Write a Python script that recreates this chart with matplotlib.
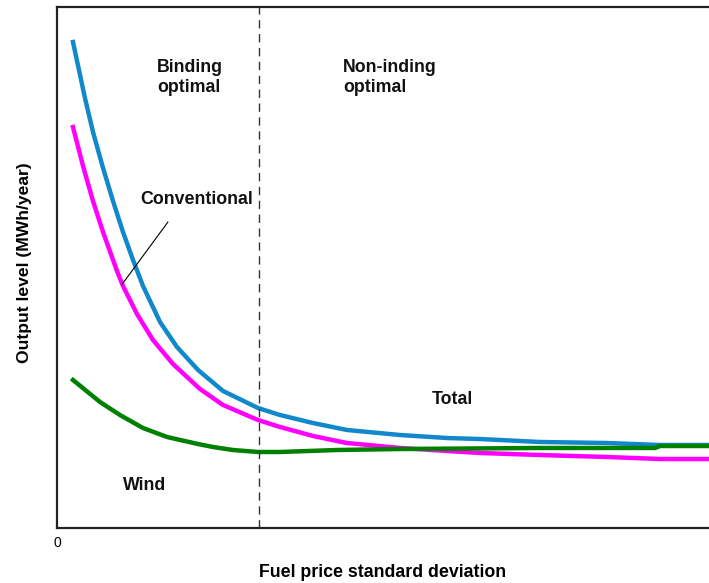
import matplotlib
matplotlib.use("Agg")
import matplotlib.pyplot as plt

plt.rcParams["font.family"] = ["Liberation Sans", "DejaVu Sans"]

# x: fuel price standard deviation, y: output level (both arbitrary units)
total_x = [0.245, 0.429, 0.552, 0.706, 0.859, 1.012, 1.166, 1.319, 1.580, 1.840, 2.163, 2.546,
           3.083, 3.420, 3.926, 4.448, 5.261, 5.982, 6.488, 7.408, 8.436, 9.248, 10.0]
total_y = [9.328, 8.253, 7.601, 6.910, 6.276, 5.681, 5.144, 4.645, 3.954, 3.474, 3.033, 2.630,
           2.303, 2.169, 2.015, 1.881, 1.785, 1.727, 1.708, 1.651, 1.631, 1.593, 1.593]

conv_x = [0.245, 0.399, 0.552, 0.706, 0.920, 1.012, 1.227, 1.472, 1.779, 2.193, 2.546,
          3.083, 3.420, 3.926, 4.448, 5.261, 5.982, 6.488, 7.408, 8.436, 9.248, 10.0]
conv_y = [7.697, 6.948, 6.276, 5.681, 4.933, 4.645, 4.107, 3.608, 3.148, 2.668, 2.361,
          2.073, 1.939, 1.766, 1.631, 1.536, 1.478, 1.440, 1.401, 1.363, 1.324, 1.324]

wind_x = [0.245, 0.660, 0.966, 1.319, 1.687, 2.163, 2.393, 2.699, 3.083, 3.420, 4.294,
          5.261, 7.408, 9.172, 9.248, 10.0]
wind_y = [2.841, 2.418, 2.169, 1.919, 1.747, 1.612, 1.555, 1.497, 1.459, 1.459, 1.497,
          1.516, 1.536, 1.536, 1.574, 1.574]

boundary_x = 3.10

fig = plt.figure(figsize=(7.09, 5.83), dpi=100)
ax = fig.add_axes([57 / 709, 55 / 583, 652 / 709, 521 / 583])

ax.plot(total_x, total_y, color="#1188cc", lw=3.2, solid_joinstyle="round")
ax.plot(conv_x, conv_y, color="#ff00ff", lw=3.2, solid_joinstyle="round")
ax.plot(wind_x, wind_y, color="#008000", lw=3.2, solid_joinstyle="round")
ax.axvline(boundary_x, color="#333333", lw=1.0, ls=(0, (6, 4)))

ax.set_xlim(0, 10)
ax.set_ylim(0, 10)
ax.spines["right"].set_visible(False)
for s in ["left", "top", "bottom"]:
    ax.spines[s].set_linewidth(1.6)
    ax.spines[s].set_color("#222222")
ax.set_xticks([0])
ax.set_xticklabels(["0"], fontsize=10)
ax.set_yticks([])
ax.tick_params(axis="x", length=0, pad=6)

tk = dict(fontsize=12.8, fontweight="bold", color="#111111")
ax.text(1.53, 8.65, "Binding\noptimal", va="center", ha="left", linespacing=1.2, **tk)
ax.text(4.39, 8.65, "Non-inding\noptimal", va="center", ha="left", linespacing=1.2, **tk)
ax.text(1.27, 6.30, "Conventional", va="center", ha="left", **tk)
ax.text(5.75, 2.46, "Total", va="center", ha="left", **tk)
ax.text(1.01, 0.82, "Wind", va="center", ha="left", **tk)

# leader line for "Conventional"
ax.plot([1.70, 1.00], [5.87, 4.68], color="black", lw=0.8)

ax.set_xlabel("Fuel price standard deviation", fontsize=12.8, fontweight="bold", labelpad=9.5)
ax.set_ylabel("Output level (MWh/year)", fontsize=12.6, fontweight="bold")
ax.yaxis.set_label_coords(-0.039, 0.51)

fig.savefig("out.png", dpi=100)
